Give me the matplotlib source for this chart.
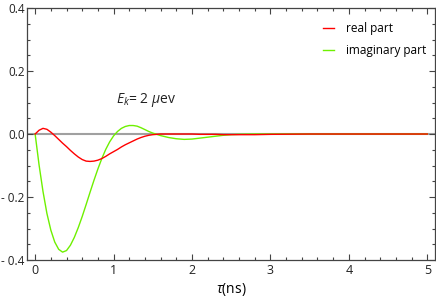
import matplotlib.pyplot as plt
from matplotlib.ticker import MultipleLocator

plt.rcParams['font.family'] = ['Open Sans', 'DejaVu Sans']
plt.rcParams['mathtext.fontset'] = 'custom'
plt.rcParams['mathtext.it'] = 'Open Sans:italic'
plt.rcParams['mathtext.rm'] = 'Open Sans'

# Time axis (ns)
tau = [0.00, 0.05, 0.10, 0.15, 0.20, 0.25, 0.30, 0.35, 0.40, 0.45,
       0.50, 0.55, 0.60, 0.65, 0.70, 0.75, 0.80, 0.85, 0.90, 0.95,
       1.00, 1.05, 1.10, 1.15, 1.20, 1.25, 1.30, 1.35, 1.40, 1.45,
       1.50, 1.55, 1.60, 1.70, 1.80, 1.90, 2.00, 2.10, 2.20, 2.30,
       2.40, 2.50, 2.60, 2.80, 3.00, 3.50, 4.00, 4.50, 5.00]

# Real part
real_part = [0.000, 0.012, 0.018, 0.015, 0.006, -0.005, -0.017, -0.029, -0.040, -0.052,
             -0.063, -0.073, -0.081, -0.086, -0.087, -0.086, -0.083, -0.078, -0.071, -0.063,
             -0.056, -0.049, -0.041, -0.034, -0.028, -0.022, -0.016, -0.011, -0.007, -0.004,
             -0.002, -0.001, 0.000, 0.000, 0.000, 0.000, 0.000, -0.001, -0.001, -0.001,
             -0.002, -0.002, -0.002, -0.002, -0.001, 0.000, 0.000, 0.000, 0.000]

# Imaginary part
imag_part = [0.000, -0.098, -0.182, -0.252, -0.305, -0.343, -0.366, -0.375, -0.370, -0.353,
             -0.328, -0.297, -0.262, -0.224, -0.185, -0.147, -0.111, -0.078, -0.049, -0.025,
             -0.006, 0.008, 0.018, 0.024, 0.027, 0.027, 0.025, 0.020, 0.014, 0.008,
             0.003, -0.001, -0.005, -0.011, -0.015, -0.017, -0.016, -0.013, -0.010, -0.007,
             -0.004, -0.002, -0.001, 0.000, 0.000, 0.000, 0.000, 0.000, 0.000]

x_ticks = [0, 1, 2, 3, 4, 5]
y_ticks = [-0.4, -0.2, 0.0, 0.2, 0.4]
y_tick_labels = ['- 0.4', '- 0.2', '0.0', '0.2', '0.4']

fig = plt.figure(figsize=(4.36, 2.98), dpi=100)
ax = fig.add_axes([0.0626, 0.1275, 0.9354, 0.8455])

ax.axhline(0, color='#a0a0a0', lw=1.5, zorder=1)
ax.plot(tau, real_part, color='#ff0000', lw=1.0, label='real part', zorder=3)
ax.plot(tau, imag_part, color='#6ef000', lw=1.0, label='imaginary part', zorder=2)

ax.set_xlim(-0.1, 5.1)
ax.set_ylim(-0.4, 0.4)
ax.set_xticks(x_ticks)
ax.set_yticks(y_ticks)
ax.set_yticklabels(y_tick_labels)
ax.xaxis.set_minor_locator(MultipleLocator(0.2))
ax.yaxis.set_minor_locator(MultipleLocator(0.05))
ax.tick_params(which='both', direction='in', top=True, right=True,
               color='#444444', labelsize=9, labelcolor='#222222', pad=3)
ax.tick_params(axis='y', labelsize=8.5, pad=2)
ax.tick_params(which='major', length=4, width=0.8)
ax.tick_params(which='minor', length=2, width=0.8)
for s in ax.spines.values():
    s.set_color('#444444')
    s.set_linewidth(0.9)

ax.set_xlabel(r'$\tau$(ns)', fontsize=10, labelpad=3)
ax.text(1.03, 0.097, r'$E_k$= 2 $\mu$ev', fontsize=10, color='#222222', va='baseline')

ax.legend(loc='upper left', bbox_to_anchor=(0.725, 0.945), frameon=False,
          borderpad=0, borderaxespad=0,
          fontsize=8.5, handlelength=0.95, handletextpad=1.0, labelspacing=0.75)

plt.savefig('out.png', dpi=100)
